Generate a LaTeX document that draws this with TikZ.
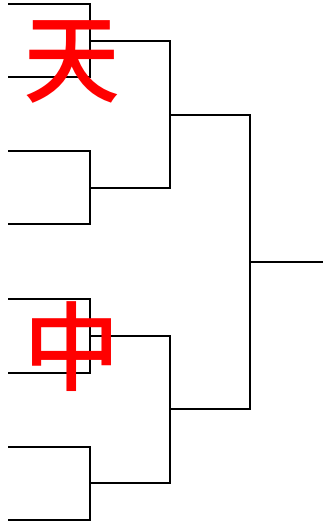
\documentclass[tikz,border=0pt]{standalone}
\usepackage{fontspec}
\newfontfamily\cjk{Noto Sans CJK SC Medium}
\begin{document}
\begin{tikzpicture}[x=1pt,y=-1pt,line width=2pt]
        \useasboundingbox (0,0) rectangle (323,524);

        % First round
        \draw (8,4) -- (90,4) -- (90,77) -- (8,77);
        \draw (8,151) -- (90,151) -- (90,224) -- (8,224);
        \draw (8,299) -- (90,299) -- (90,373) -- (8,373);
        \draw (8,447) -- (90,447) -- (90,520) -- (8,520);

        % Second round
        \draw (90,41) -- (170,41) -- (170,188) -- (90,188);
        \draw (90,336) -- (170,336) -- (170,483) -- (90,483);

        % Final
        \draw (170,115) -- (250,115) -- (250,409) -- (170,409);
        \draw (250,262) -- (323,262);

        % Marks
        \node[text=red,font=\cjk\fontsize{97}{97}\selectfont] (tian) at (72,62) {天};
        \node[text=red,font=\cjk\fontsize{97}{97}\selectfont] (zhong) at (72,347) {中};

    \end{tikzpicture}
\end{document}
